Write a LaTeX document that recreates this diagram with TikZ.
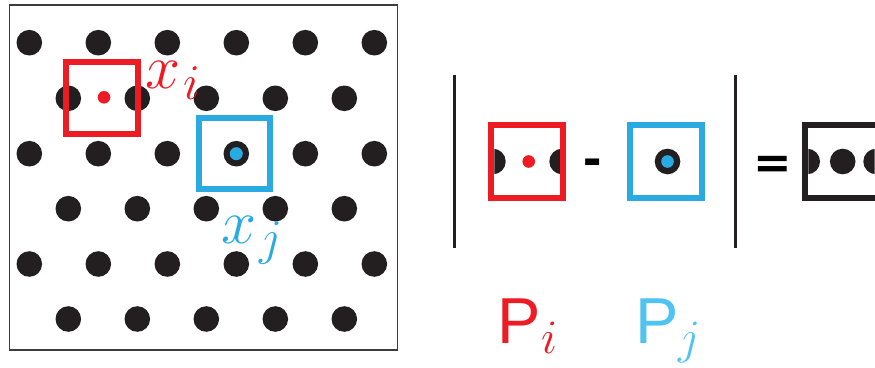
\RequirePackage{fix-cm}
\documentclass[tikz,border=0pt]{standalone}
\usepackage{fontspec}
\newfontfamily\psans{Liberation Sans}
\newfontfamily\dsans{DejaVu Sans}
\DeclareMathSizes{63}{63}{50}{38}
\DeclareMathSizes{65}{65}{48}{36}
\definecolor{cred}{RGB}{237,28,36}
\definecolor{cblue}{RGB}{41,171,226}
\definecolor{clight}{RGB}{80,196,240}
\definecolor{dotc}{RGB}{35,31,32}
\definecolor{framec}{RGB}{60,60,60}
\tikzset{
  dot/.style={fill=dotc},
  winbox/.style={line width=6pt},
  barline/.style={draw=dotc, line width=3pt},
  lab/.style={inner sep=0pt, anchor=base west},
}
\begin{document}
\begin{tikzpicture}[x=1pt,y=-1pt]
\useasboundingbox (0,0) rectangle (875,367);
% frame
\draw[framec, line width=1.6pt] (9.3,4.7) rectangle (397.5,350);
% lattice
\foreach \y in {42.7,153.7,264} \foreach \c in {0,...,5}
  \fill[dot] (29.3+69*\c,\y) circle (12.8);
\foreach \y in {98.3,208.7,319} \foreach \c in {0,...,4}
  \fill[dot] (68.3+69*\c,\y) circle (12.8);
\fill[cred] (104,97.3) circle (6.3);
\fill[cblue] (236.3,153.7) circle (6.5);
% windows
\draw[winbox, cred] (66.3,62.3) rectangle (138,134.3);
\draw[winbox, cblue] (198.7,118) rectangle (270.3,189.3);
% labels
\node[lab, text=cred, font=\fontsize{63}{63}\selectfont] (xi) at (145,88) {$x_{\mkern1mu i}$};
\node[lab, text=cblue, font=\fontsize{63}{63}\selectfont] (xj) at (221,243) {$x_{\mkern1mu j}$};
% bars
\draw[barline] (454,75) -- (454,247.7);
\draw[barline] (735.3,75) -- (735.3,247.7);
% red window copy
\begin{scope}
\clip (494.3,128.3) rectangle (560,194.7);
\fill[dot] (492.9,161.5) circle (12.8);
\fill[dot] (562.1,161.5) circle (12.8);
\end{scope}
\fill[cred] (528.7,161.5) circle (6.3);
\draw[winbox, cred] (491.3,125.3) rectangle (563,197.7);
% minus
\node[inner sep=0pt, anchor=base, font=\psans\bfseries\fontsize{55}{55}\selectfont] (minus) at (593,176.6) {-};
% blue window copy
\fill[dot] (667.5,161.5) circle (12.8);
\fill[cblue] (667.5,161.5) circle (6.3);
\draw[winbox, cblue] (629.7,125.3) rectangle (702,197.7);
% equals
\node[inner sep=0pt, anchor=base, font=\dsans\bfseries\fontsize{46}{46}\selectfont] (eq) at (772.5,178.5) {=};
% result window
\begin{scope}
\clip (0,0) rectangle (875,367);
\begin{scope}
\clip (808.3,128.3) rectangle (874.7,194.7);
\fill[dot] (807.2,161.5) circle (12.8);
\fill[dot] (842.7,161.5) circle (12.8);
\fill[dot] (876.1,161.5) circle (12.8);
\end{scope}
\draw[winbox, dotc] (805.3,125.3) rectangle (877.7,197.7);
\end{scope}
% P labels
\node[lab, text=cred, font=\fontsize{65}{65}\selectfont] (Pi) at (497.5,343.3) {{\psans P}$_{i}$};
\node[lab, text=clight, font=\fontsize{65}{65}\selectfont] (Pj) at (635,343.3) {{\psans P}$_{j}$};
\end{tikzpicture}
\end{document}
